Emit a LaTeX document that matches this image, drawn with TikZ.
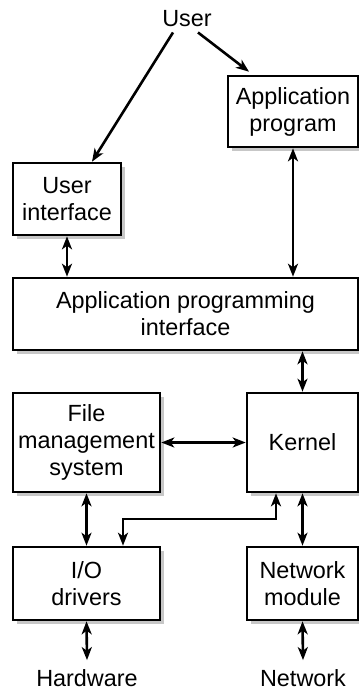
\documentclass[tikz,border=0pt]{standalone}
\usepackage{fontspec}
\setmainfont{Liberation Sans}
\usepackage{tikz}
\usetikzlibrary{positioning}
\usetikzlibrary{shapes,arrows,arrows.meta,shadows}

\begin{document}
\begin{tikzpicture}[%
    x=0.5pt,
    y=-0.5pt,
    line width=1.3pt,
    >={Stealth[length=6.5pt,width=5pt,inset=1.8pt]},
    font=\fontsize{11.7}{13.5}\selectfont,
    block/.style={%
      rectangle,
      draw,
      fill=white,
      align=center,
      inner sep=0pt,
      drop shadow={shadow xshift=2pt, shadow yshift=-2pt,
                   fill=black!22, opacity=1}
    },
    plain/.style={%
      inner sep=1pt
    }
  ]
  \useasboundingbox (0,0) rectangle (359,692);
  % Nodes: 
    \node[plain] (user) at (187,19)                              {User};
    \node[block, minimum width=65pt, minimum height=35.5pt] (app) at (293,111.5)  {Application\\program};
    \node[block, minimum width=54pt, minimum height=36pt]   (ui)  at (67,199)     {User\\interface};
    \node[block, minimum width=172.5pt, minimum height=36pt] (api) at (185.5,314) {Application programming\\interface};
    \node[block, minimum width=73.5pt, minimum height=49.5pt] (fms) at (86.5,442.5) {File\\management\\system};
    \node[block, minimum width=55.5pt, minimum height=49.5pt] (kernel) at (302.5,442.5) {Kernel};
    \node[block, minimum width=73.5pt, minimum height=36.5pt] (io) at (86.5,583.5)  {I/O\\drivers};
    \node[block, minimum width=55.5pt, minimum height=36.5pt] (net) at (302.5,583.5) {Network\\module};
    \node[plain] (hw)  at (87,678)  {Hardware};
    \node[plain] (nw)  at (303,678) {Network};
  % Corner points: 
    \coordinate (bendA) at ([xshift=-13.25pt]kernel.south |- 0,519);
    \coordinate (bendB) at ([xshift=18.25pt]io.north |- 0,519);
  % Paths: 
    \draw[->] ([xshift=-7pt,yshift=-1pt]user.south) -- ([xshift=12.5pt]ui.north);
    \draw[->] ([xshift=5.5pt,yshift=-1pt]user.south) -- ([xshift=-22pt,yshift=1.5pt]app.north);
    \draw[<->] (ui.south) -- (ui.south |- api.north);
    \draw[<->] (app.south) -- (app.south |- api.north);
    \draw[<->] (kernel.north |- api.south) -- (kernel.north);
    \draw[<->] (fms.east) -- (kernel.west);
    \draw[<->] (fms.south) -- (io.north);
    \draw[<->] (kernel.south) -- (net.north);
    \draw[<->] ([xshift=-13.25pt]kernel.south) -- (bendA) -- (bendB)
               -- ([xshift=18.25pt]io.north);
    \draw[<->] (io.south) -- ([yshift=3pt]hw.north);
    \draw[<->] (net.south) -- ([yshift=3pt]nw.north);
\end{tikzpicture}
\end{document}
